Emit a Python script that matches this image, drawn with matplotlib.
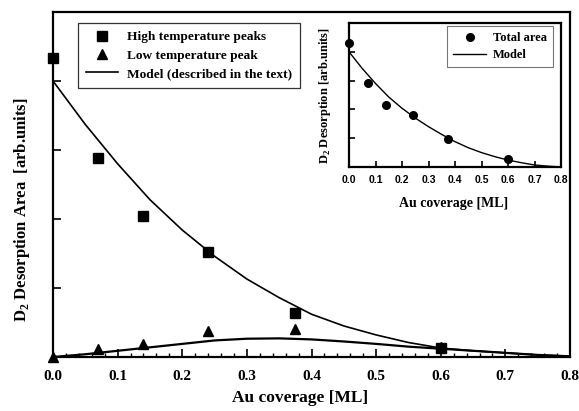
import matplotlib
matplotlib.use("Agg")
import matplotlib.pyplot as plt
from matplotlib.ticker import MultipleLocator, NullFormatter

plt.rcParams['font.family'] = ['Liberation Serif', 'DejaVu Serif']
plt.rcParams['mathtext.fontset'] = 'custom'
plt.rcParams['mathtext.rm'] = 'Liberation Serif:bold'
plt.rcParams['mathtext.bf'] = 'Liberation Serif:bold'

# ---- data (main panel) ----
cov = [0.0, 0.07, 0.14, 0.24, 0.375, 0.6]
high_peaks = [4.33, 2.88, 2.04, 1.52, 0.64, 0.13]
low_peak = [0.0, 0.11, 0.19, 0.38, 0.40, 0.15]

model_x = [0.00, 0.05, 0.10, 0.15, 0.20, 0.25, 0.30, 0.35, 0.40, 0.45,
           0.50, 0.55, 0.60, 0.65, 0.70, 0.75, 0.80]
model_high = [4.00, 3.37, 2.80, 2.28, 1.84, 1.46, 1.13, 0.86, 0.62, 0.45,
              0.32, 0.21, 0.13, 0.09, 0.06, 0.03, 0.01]
model_low = [0.00, 0.04, 0.09, 0.14, 0.19, 0.24, 0.265, 0.27, 0.255, 0.225,
             0.19, 0.15, 0.12, 0.09, 0.06, 0.03, 0.01]

# ---- data (inset) ----
total_area = [4.32, 2.92, 2.15, 1.82, 0.97, 0.27]
model_total = [4.00, 3.42, 2.90, 2.43, 2.04, 1.70, 1.40, 1.13, 0.88, 0.67,
               0.50, 0.36, 0.24, 0.15, 0.07, 0.03, 0.00]

xticks = [0.0, 0.1, 0.2, 0.3, 0.4, 0.5, 0.6, 0.7, 0.8]
xticklabels = ['0.0', '0.1', '0.2', '0.3', '0.4', '0.5', '0.6', '0.7', '0.8']

W, H = 579, 411
fig = plt.figure(figsize=(W / 100, H / 100), dpi=100)

def fx(px):
    return px / W

def fy(py):
    return 1 - py / H

# main axes
ax = fig.add_axes([fx(53), fy(357), fx(570) - fx(53), fy(12) - fy(357)])
ax.plot(cov, high_peaks, 's', color='black', markersize=6.5, clip_on=False,
        label='High temperature peaks', zorder=3)
ax.plot(cov, low_peak, '^', color='black', markersize=6.5, clip_on=False,
        label='Low temperature peak', zorder=3)
ax.plot(model_x, model_high, '-', color='black', lw=1.2,
        label='Model (described in the text)')
ax.plot(model_x, model_low, '-', color='black', lw=1.6)

ax.set_xlim(0, 0.8)
ax.set_ylim(0, 5)
ax.set_xticks(xticks)
ax.set_xticklabels(xticklabels, fontsize=11, fontweight='bold')
ax.xaxis.set_minor_locator(MultipleLocator(0.02))
ax.yaxis.set_major_locator(MultipleLocator(1))
ax.yaxis.set_major_formatter(NullFormatter())
ax.tick_params(axis='both', which='major', direction='in', length=6, width=1.2,
               top=False, right=False, pad=9)
ax.tick_params(axis='x', which='minor', direction='in', length=3, width=1.0,
               top=False)
for s in ax.spines.values():
    s.set_linewidth(1.6)

fig.text(fx(300), fy(398), 'Au coverage [ML]', ha='center', va='center',
         fontsize=12.5, fontweight='bold')
fig.text(fx(22), fy(210), r'D$_2$ Desorption Area  [arb.units]', ha='center',
         va='center', rotation=90, fontsize=12, fontweight='bold')

leg = ax.legend(loc='upper left', bbox_to_anchor=(fx(78), fy(23)),
                bbox_transform=fig.transFigure, frameon=True, fancybox=False,
                edgecolor='black',
                prop={'weight': 'bold', 'size': 9.6, 'family': 'Liberation Serif'},
                handlelength=2.4, handletextpad=0.7, labelspacing=0.45,
                borderpad=0.6, borderaxespad=0)
leg.get_frame().set_linewidth(0.9)

# inset axes
ai = fig.add_axes([fx(349), fy(167), fx(561) - fx(349), fy(23) - fy(167)])
ai.plot(cov, total_area, 'o', color='black', markersize=5.5, clip_on=False,
        label='Total area', zorder=3)
ai.plot(model_x, model_total, '-', color='black', lw=1.0, label='Model')
ai.set_xlim(0, 0.8)
ai.set_ylim(0, 5)
ai.set_xticks(xticks)
ai.set_xticklabels(xticklabels, fontsize=7.5, fontweight='bold',
                   family='Liberation Sans')
ai.yaxis.set_major_locator(MultipleLocator(1))
ai.yaxis.set_major_formatter(NullFormatter())
ai.tick_params(axis='both', direction='in', length=4, width=1.2, pad=6)
for s in ai.spines.values():
    s.set_linewidth(1.6)
fig.text(fx(454), fy(203), 'Au coverage [ML]', ha='center', va='center',
         fontsize=10, fontweight='bold')
fig.text(fx(325), fy(96), r'D$_2$ Desorption [arb.units]', ha='center',
         va='center', rotation=90, fontsize=9, fontweight='bold')
leg2 = ai.legend(loc='upper left', bbox_to_anchor=(fx(447), fy(26)),
                 bbox_transform=fig.transFigure, frameon=True, fancybox=False,
                 edgecolor='#555555',
                 prop={'weight': 'bold', 'size': 9, 'family': 'Liberation Serif'},
                 handlelength=2.6, handletextpad=0.55, labelspacing=0.4,
                 borderpad=0.5, borderaxespad=0)
leg2.get_frame().set_linewidth(0.8)

fig.savefig('out.png', dpi=100)
